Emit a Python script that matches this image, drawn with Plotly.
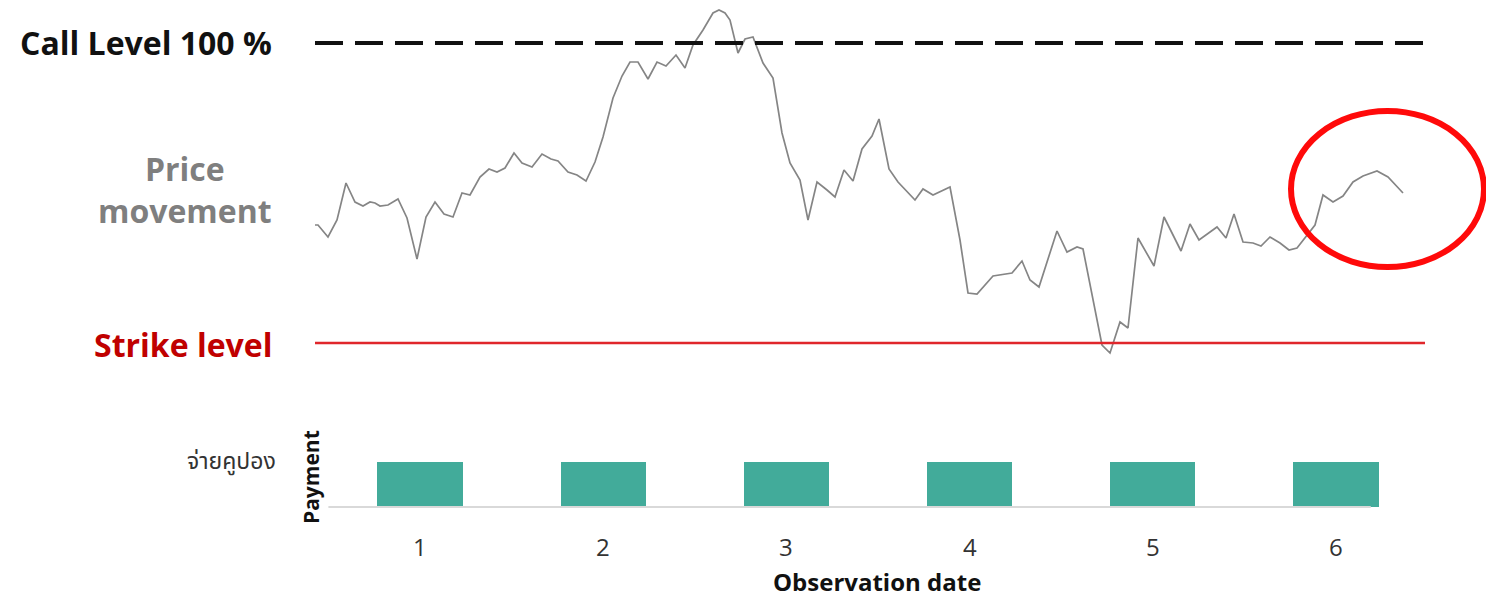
import plotly.graph_objects as go

# Underlying price path (trading day, level in % of initial)
days = [0.0, 0.3, 1.3, 2.2, 3.1, 4.0, 4.8, 5.5, 6.0, 6.5, 7.3, 8.3, 9.2, 10.2, 11.1, 12.0,
        12.9, 13.8, 14.7, 15.5, 16.5, 17.4, 18.2, 19.0, 19.9, 20.7, 21.7, 22.7, 23.6, 24.3,
        25.3, 26.2, 27.1, 28.0, 28.8, 29.8, 30.7, 31.5, 32.3, 33.3, 34.2, 35.1, 36.1, 37.0,
        37.8, 38.8, 39.8, 40.4, 41.0, 41.5, 42.3, 43.0, 43.8, 44.8, 45.8, 46.7, 47.5, 48.5,
        49.3, 50.2, 51.2, 52.0, 52.9, 53.8, 54.7, 55.7, 56.4, 57.4, 58.3, 60.0, 60.8, 61.8,
        63.5, 64.5, 65.3, 66.2, 67.8, 69.7, 70.7, 71.5, 72.4, 74.2, 75.2, 76.2, 76.8, 77.8,
        78.7, 79.5, 80.5, 81.3, 82.3, 83.9, 84.9, 86.6, 87.5, 88.4, 90.2, 91.1, 91.9, 92.8,
        93.8, 94.6, 95.5, 96.5, 97.4, 98.2, 100.0, 100.8, 101.8, 102.8, 103.8, 104.8, 106.2,
        107.3, 108.8]
price = [81.8, 81.8, 80.6, 82.3, 86.0, 84.1, 83.7, 84.1, 84.0, 83.7, 83.8, 84.4, 82.5, 78.4,
         82.6, 84.1, 82.9, 82.6, 85.0, 84.8, 86.6, 87.4, 87.1, 87.5, 89.0, 88.0, 87.6, 88.9,
         88.4, 88.2, 87.1, 86.8, 86.2, 88.1, 90.6, 94.5, 96.7, 98.1, 98.1, 96.4, 98.1, 97.7,
         98.8, 97.5, 99.8, 101.3, 103.0, 103.3, 103.0, 102.3, 99.0, 100.4, 100.6, 98.0, 96.5,
         91.0, 88.0, 86.3, 82.3, 86.1, 85.3, 84.6, 87.3, 86.2, 89.4, 90.7, 92.4, 87.4, 86.1,
         84.3, 85.4, 84.8, 85.6, 80.3, 75.0, 74.9, 76.7, 77.0, 78.2, 76.3, 75.6, 81.2, 79.1,
         79.6, 79.4, 74.3, 69.8, 69.0, 72.1, 71.5, 80.5, 77.7, 82.6, 79.2, 81.9, 80.3, 81.6,
         80.5, 82.9, 80.1, 80.0, 79.7, 80.6, 80.0, 79.3, 79.5, 81.8, 84.8, 84.1, 84.7, 86.1,
         86.7, 87.2, 86.6, 85.0]

CALL_LEVEL = 100
STRIKE_LEVEL = 70
LEVEL_START, LEVEL_END = 0, 111

# Coupon payments per observation date
obs_dates = [1, 2, 3, 4, 5, 6]
payment = [1, 1, 1, 1, 1, 1]
tick_labels = ["1", "2", "3", "4", "5", "6"]

BOLD = "Open Sans"
W, H = 1486, 598

fig = go.Figure()

fig.add_trace(go.Scatter(
    x=days, y=price, mode="lines",
    line=dict(color="#858585", width=1.7),
    xaxis="x", yaxis="y", hoverinfo="skip", showlegend=False,
))

fig.add_trace(go.Bar(
    x=obs_dates, y=payment, width=0.465,
    marker=dict(color="#42ab9a", line=dict(width=0)),
    xaxis="x2", yaxis="y2", hoverinfo="skip", showlegend=False,
))

# Call level (dashed) and strike level (red)
fig.add_shape(type="line", xref="x", yref="y", x0=LEVEL_START, x1=LEVEL_END,
              y0=CALL_LEVEL, y1=CALL_LEVEL,
              line=dict(color="#111111", width=4, dash="28px,12px"))
fig.add_shape(type="line", xref="x", yref="y", x0=LEVEL_START, x1=LEVEL_END,
              y0=STRIKE_LEVEL, y1=STRIKE_LEVEL,
              line=dict(color="#e0262b", width=2.5))

# Highlight around the final stretch of the price path
fig.add_shape(type="circle", xref="x", yref="y", x0=97.6, x1=116.9, y0=77.6, y1=93.2,
              line=dict(color="#ff0a0a", width=6))

# Payment baseline
fig.add_shape(type="line", xref="x2", yref="y2", x0=0.5, x1=6.19, y0=0, y1=0,
              line=dict(color="#d9d9d9", width=2))

ann = []
def txt(x, y, s, size, color, bold=False, xanchor="right", xref="paper", yref="paper",
        angle=0, family=BOLD):
    ann.append(dict(x=x, y=y, xref=xref, yref=yref, text=(f"<b>{s}</b>" if bold else s),
                    showarrow=False, xanchor=xanchor, yanchor="middle", textangle=angle,
                    font=dict(family=family, size=size, color=color)))

txt(274 / W, 1 - 43 / H, "Call Level 100 %", 32, "#111111", bold=True)
txt(274 / W, 1 - 189 / H, "Price<br>movement", 32, "#7f7f7f", bold=True)
txt(274 / W, 1 - 345 / H, "Strike level", 32, "#c00000", bold=True)
txt(278 / W, 1 - 462 / H, "จ่ายคูปอง", 23, "#333333",
    family="Noto Sans Thai, Noto Sans, DejaVu Sans, sans-serif")
txt(311 / W, 1 - 477 / H, "Payment", 21, "#111111", bold=True, xanchor="center", angle=-90)
for d, lab in zip(obs_dates, tick_labels):
    txt(d, -0.87, lab, 24, "#333333", xanchor="center", xref="x2", yref="y2",
        family="Open Sans")
txt(877 / W, 1 - 581 / H, "Observation date", 24, "#111111", bold=True, xanchor="center")

hidden = dict(visible=False, showgrid=False, zeroline=False, fixedrange=True)
fig.update_layout(
    width=W, height=H,
    margin=dict(l=0, r=0, t=0, b=0),
    paper_bgcolor="white", plot_bgcolor="rgba(0,0,0,0)",
    xaxis=dict(domain=[0, 1], range=[-31.5, 117.1], **hidden),
    yaxis=dict(domain=[0, 1], range=[44.5, 104.3], **hidden),
    xaxis2=dict(domain=[0, 1], range=[-1.2926, 6.8188], overlaying="x", **hidden),
    yaxis2=dict(domain=[0, 1], range=[-2.022, 11.267], overlaying="y", **hidden),
    annotations=ann,
    bargap=0,
)

fig.write_html("out.html", config={"displayModeBar": False})
